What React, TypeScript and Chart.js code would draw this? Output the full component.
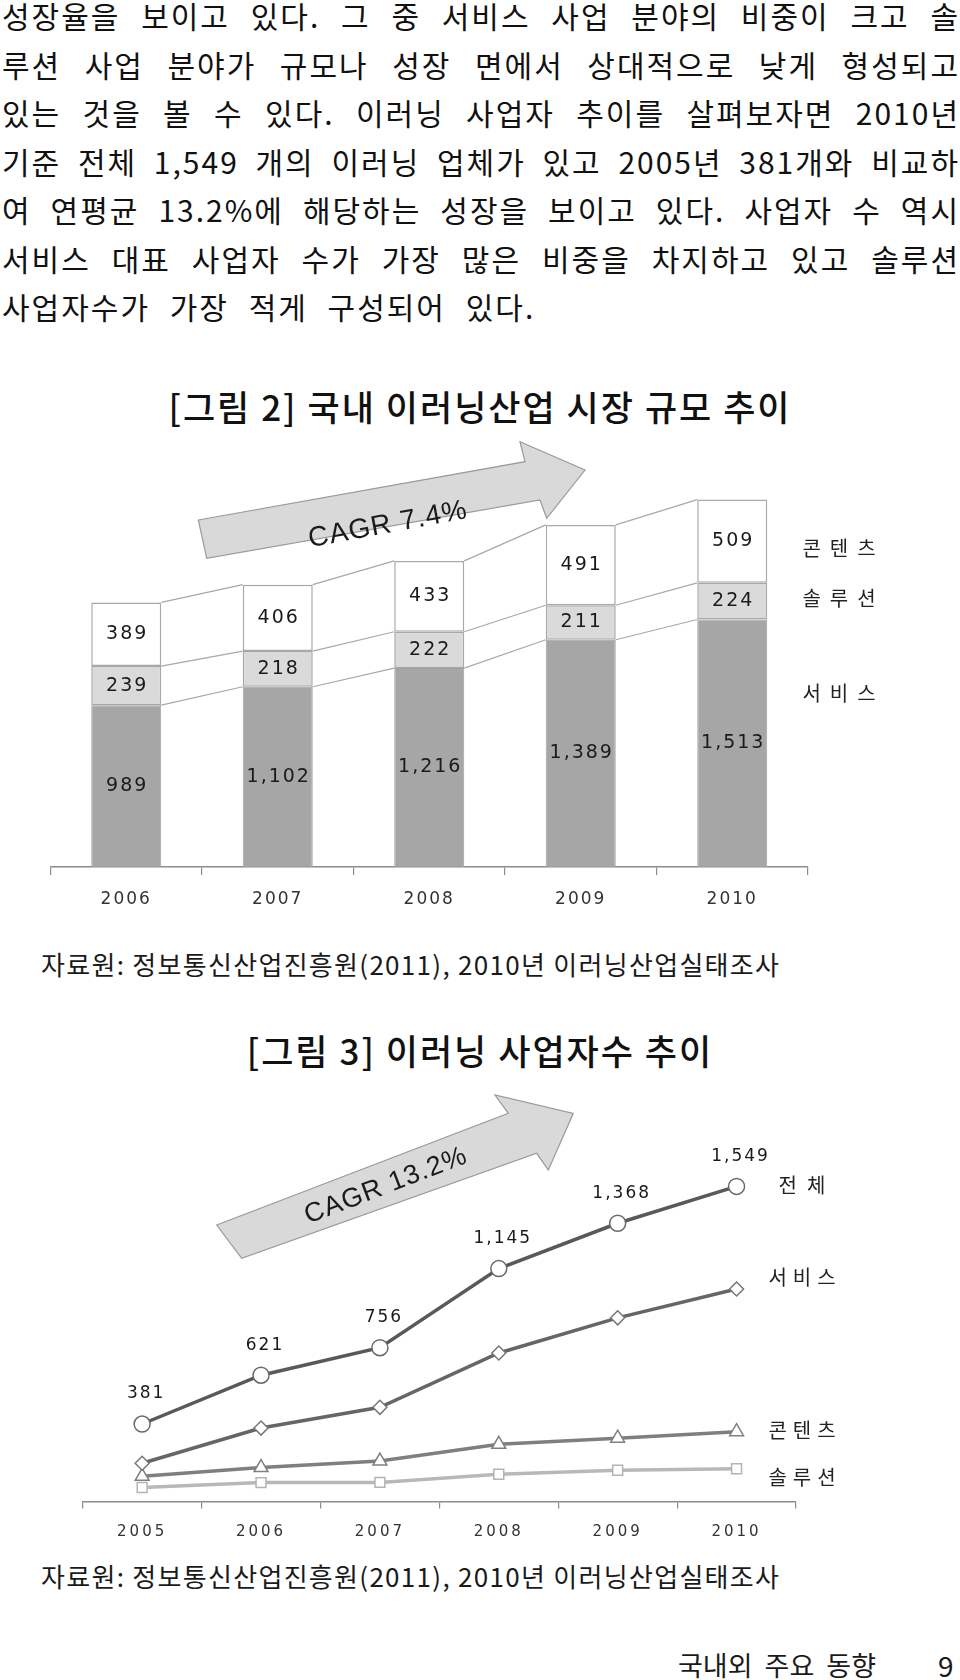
import React, { useEffect, useRef } from 'react';
import { Chart, registerables } from 'chart.js';

Chart.register(...registerables);

// ---------- text ----------
const PARAGRAPH_LINES = [
  '성장율을 보이고 있다. 그 중 서비스 사업 분야의 비중이 크고 솔',
  '루션 사업 분야가 규모나 성장 면에서 상대적으로 낮게 형성되고',
  '있는 것을 볼 수 있다. 이러닝 사업자 추이를 살펴보자면 2010년',
  '기준 전체 1,549 개의 이러닝 업체가 있고 2005년 381개와 비교하',
  '여 연평균 13.2%에 해당하는 성장을 보이고 있다. 사업자 수 역시',
  '서비스 대표 사업자 수가 가장 많은 비중을 차지하고 있고 솔루션',
  '사업자수가 가장 적게 구성되어 있다.',
];
const FIG2_TITLE = '[그림 2] 국내 이러닝산업 시장 규모 추이';
const FIG3_TITLE = '[그림 3] 이러닝 사업자수 추이';
const SOURCE_TEXT = '자료원: 정보통신산업진흥원(2011), 2010년 이러닝산업실태조사';
const FOOTER_TEXT = '국내외 주요 동향';
const PAGE_NO = '9';

// ---------- figure 2 (stacked bars) ----------
const BAR_YEARS = ['2006', '2007', '2008', '2009', '2010'];
const BAR_SERVICE = [989, 1102, 1216, 1389, 1513];
const BAR_SOLUTION = [239, 218, 222, 211, 224];
const BAR_CONTENT = [389, 406, 433, 491, 509];
const BAR_SERIES_NAMES = ['서비스', '솔루션', '콘텐츠'];
const BAR_CAGR = 'CAGR 7.4%';

// ---------- figure 3 (lines) ----------
const LINE_YEARS = ['2005', '2006', '2007', '2008', '2009', '2010'];
const LINE_TOTAL = [381, 621, 756, 1145, 1368, 1549];
const LINE_SERVICE = [188, 361, 463, 730, 903, 1045];
const LINE_CONTENT = [124, 167, 199, 281, 311, 343];
const LINE_SOLUTION = [69, 93, 94, 134, 154, 161];
const LINE_SERIES_NAMES = ['전체', '서비스', '콘텐츠', '솔루션'];
const LINE_CAGR = 'CAGR 13.2%';

const fmt = (v: number) => v.toLocaleString('en-US');

function drawArrow(ctx: CanvasRenderingContext2D, pts: number[][], text: string, cx: number, cy: number, angleDeg: number, size: number) {
  ctx.save();
  ctx.beginPath();
  ctx.moveTo(pts[0][0], pts[0][1]);
  for (let i = 1; i < pts.length; i++) ctx.lineTo(pts[i][0], pts[i][1]);
  ctx.closePath();
  ctx.fillStyle = '#d9d9d9';
  ctx.fill();
  ctx.strokeStyle = '#9a9a9a';
  ctx.lineWidth = 1.2;
  ctx.stroke();
  ctx.translate(cx, cy);
  ctx.rotate((angleDeg * Math.PI) / 180);
  ctx.fillStyle = '#1a1a1a';
  (ctx as any).letterSpacing = '1px';
  ctx.font = `${size}px "Liberation Sans", Arial, sans-serif`;
  ctx.textAlign = 'center';
  ctx.textBaseline = 'middle';
  ctx.fillText(text, 0, 0);
  ctx.restore();
}

function spacedText(ctx: CanvasRenderingContext2D, text: string, x: number, y: number, font: string, spacing: number, color: string) {
  ctx.save();
  ctx.font = font;
  (ctx as any).letterSpacing = spacing + 'px';
  ctx.fillStyle = color;
  ctx.textAlign = 'center';
  ctx.textBaseline = 'middle';
  ctx.fillText(text, x + spacing / 2, y);
  ctx.restore();
}

const tickSpacingPlugin = (px: number) => ({
  id: 'tickSpacing',
  beforeDraw(chart: any) {
    chart.ctx.letterSpacing = px + 'px';
  },
  afterDraw(chart: any) {
    chart.ctx.letterSpacing = '0px';
  },
});

const barDecor = {
  id: 'barDecor',
  beforeDatasetsDraw(chart: any) {
    const ctx = chart.ctx as CanvasRenderingContext2D;
    drawArrow(
      ctx,
      [[198.3, 100], [525, 41.7], [520, 21.7], [585, 50], [546.7, 98.3], [540, 80], [206.7, 138.3]],
      BAR_CAGR, 388, 105, -10.5, 28
    );
  },
  afterDatasetsDraw(chart: any) {
    const ctx = chart.ctx as CanvasRenderingContext2D;
    ctx.save();
    (ctx as any).letterSpacing = '0px';
    ctx.strokeStyle = '#a8a8a8';
    ctx.lineWidth = 1.2;
    chart.data.datasets.forEach((_: any, di: number) => {
      const meta = chart.getDatasetMeta(di);
      for (let i = 0; i < meta.data.length - 1; i++) {
        const a = meta.data[i];
        const b = meta.data[i + 1];
        ctx.beginPath();
        ctx.moveTo(a.x + a.width / 2, a.y);
        ctx.lineTo(b.x - b.width / 2, b.y);
        ctx.stroke();
      }
    });
    ctx.restore();
    chart.data.datasets.forEach((ds: any, di: number) => {
      const meta = chart.getDatasetMeta(di);
      meta.data.forEach((el: any, i: number) => {
        spacedText(ctx, fmt(ds.data[i]), el.x, (el.y + el.base) / 2, '19px "DejaVu Sans", Verdana, sans-serif', 2, '#1a1a1a');
      });
    });
    const ca = chart.chartArea;
    const lx = ca.right + 31;
    const font = '20px "Noto Sans CJK KR", sans-serif';
    spacedText(ctx, BAR_SERIES_NAMES[2], lx, 128, font, 9, '#222');
    spacedText(ctx, BAR_SERIES_NAMES[1], lx, 178, font, 9, '#222');
    spacedText(ctx, BAR_SERIES_NAMES[0], lx, 273, font, 9, '#222');
  },
};

const lineDecor = {
  id: 'lineDecor',
  beforeDatasetsDraw(chart: any) {
    const ctx = chart.ctx as CanvasRenderingContext2D;
    drawArrow(
      ctx,
      [[216.7, 145], [508.3, 33.3], [495, 15], [573.3, 33.3], [548.3, 90], [536.7, 73.3], [241.7, 178.3]],
      LINE_CAGR, 386, 106, -21, 27
    );
  },
  afterDatasetsDraw(chart: any) {
    const ctx = chart.ctx as CanvasRenderingContext2D;
    const meta = chart.getDatasetMeta(0);
    meta.data.forEach((el: any, i: number) => {
      spacedText(ctx, fmt(LINE_TOTAL[i]), el.x + 3, el.y - 30, '17px "DejaVu Sans", Verdana, sans-serif', 2, '#1a1a1a');
    });
    const lx = chart.chartArea.right + 6;
    const font = '20px "Noto Sans CJK KR", sans-serif';
    spacedText(ctx, LINE_SERIES_NAMES[0], lx, 105, font, 10, '#222');
    spacedText(ctx, LINE_SERIES_NAMES[1], lx, 197, font, 6, '#222');
    spacedText(ctx, LINE_SERIES_NAMES[2], lx, 350, font, 6, '#222');
    spacedText(ctx, LINE_SERIES_NAMES[3], lx, 397, font, 6, '#222');
  },
};

function BarFigure() {
  const ref = useRef<HTMLCanvasElement>(null);
  useEffect(() => {
    const chart = new Chart(ref.current as HTMLCanvasElement, {
      type: 'bar',
      data: {
        labels: BAR_YEARS,
        datasets: [
          { label: BAR_SERIES_NAMES[0], data: BAR_SERVICE, backgroundColor: '#a6a6a6', borderColor: '#a0a0a0', borderWidth: 1, borderSkipped: false },
          { label: BAR_SERIES_NAMES[1], data: BAR_SOLUTION, backgroundColor: '#dadada', borderColor: '#a8a8a8', borderWidth: 1.5, borderSkipped: false },
          { label: BAR_SERIES_NAMES[2], data: BAR_CONTENT, backgroundColor: '#ffffff', borderColor: '#a8a8a8', borderWidth: 1.5, borderSkipped: false },
        ],
      } as any,
      options: {
        responsive: false,
        animation: false,
        devicePixelRatio: 1,
        layout: { padding: { left: 50.5, right: 152, top: 38, bottom: 8 } },
        plugins: { legend: { display: false }, tooltip: { enabled: false } },
        datasets: { bar: { categoryPercentage: 1, barPercentage: 0.462 } },
        scales: {
          x: {
            stacked: true,
            offset: true,
            grid: { display: true, offset: true, drawOnChartArea: false, drawTicks: true, tickLength: 8, color: '#8c8c8c', lineWidth: 1.2 },
            border: { display: true, color: '#8c8c8c', width: 1.5 },
            ticks: { color: '#333', font: { family: '"DejaVu Sans", Verdana, sans-serif', size: 17 }, padding: 14, maxRotation: 0 },
            afterFit: (s: any) => { s.height = 45; },
          },
          y: { stacked: true, display: false, min: 0, max: 2500 },
        },
      } as any,
      plugins: [tickSpacingPlugin(2), barDecor] as any,
    });
    return () => chart.destroy();
  }, []);
  return <canvas ref={ref} width={960} height={500} style={{ position: 'absolute', left: 0, top: 420, width: 960, height: 500 }} />;
}

function LineFigure() {
  const ref = useRef<HTMLCanvasElement>(null);
  useEffect(() => {
    const common = { pointBackgroundColor: '#ffffff', pointBorderWidth: 1.5, tension: 0, borderWidth: 3.5 };
    const chart = new Chart(ref.current as HTMLCanvasElement, {
      type: 'line',
      data: {
        labels: LINE_YEARS,
        datasets: [
          { ...common, label: LINE_SERIES_NAMES[0], data: LINE_TOTAL, borderColor: '#595959', pointBorderColor: '#6a6a6a', pointStyle: 'circle', pointRadius: 8 },
          { ...common, label: LINE_SERIES_NAMES[1], data: LINE_SERVICE, borderColor: '#666666', pointBorderColor: '#777777', pointStyle: 'rectRot', pointRadius: 7 },
          { ...common, label: LINE_SERIES_NAMES[2], data: LINE_CONTENT, borderColor: '#7f7f7f', pointBorderColor: '#808080', pointStyle: 'triangle', pointRadius: 8 },
          { ...common, label: LINE_SERIES_NAMES[3], data: LINE_SOLUTION, borderColor: '#b8b8b8', pointBorderColor: '#b4b4b4', pointStyle: 'rect', pointRadius: 7 },
        ],
      } as any,
      options: {
        responsive: false,
        animation: false,
        devicePixelRatio: 1,
        layout: { padding: { left: 82.7, right: 164, top: 14.7, bottom: 8.5 } },
        plugins: { legend: { display: false }, tooltip: { enabled: false } },
        scales: {
          x: {
            offset: true,
            grid: { display: true, offset: true, drawOnChartArea: false, drawTicks: true, tickLength: 7, color: '#8c8c8c', lineWidth: 1.2 },
            border: { display: true, color: '#8c8c8c', width: 1.5 },
            ticks: { color: '#333', font: { family: '"DejaVu Sans", Verdana, sans-serif', size: 15 }, padding: 14.5, maxRotation: 0 },
            afterFit: (s: any) => { s.height = 40; },
          },
          y: { display: false, min: 0, max: 2000 },
        },
      } as any,
      plugins: [tickSpacingPlugin(3), lineDecor] as any,
    });
    return () => chart.destroy();
  }, []);
  return <canvas ref={ref} width={960} height={470} style={{ position: 'absolute', left: 0, top: 1080, width: 960, height: 470 }} />;
}

const KR = '"Noto Sans CJK KR", "Noto Sans", sans-serif';

export default function App() {
  const last = PARAGRAPH_LINES.length - 1;
  return (
    <div style={{ position: 'absolute', left: 0, top: 0, width: 960, height: 1680, background: '#fff', overflow: 'hidden', fontFamily: KR, color: '#111' }}>
      {PARAGRAPH_LINES.map((t, i) => (
        <div
          key={i}
          style={{
            position: 'absolute',
            left: 2,
            top: 17 + i * 48.5 - 26,
            width: 958,
            height: 48,
            lineHeight: '48px',
            fontSize: 30,
            letterSpacing: 2,
            wordSpacing: i === last ? 11 : 0,
            textAlign: i < last ? 'justify' : 'left',
            textAlignLast: i < last ? 'justify' : 'auto',
          } as any}
        >
          {t}
        </div>
      ))}
      <div style={{ position: 'absolute', left: 0, top: 408 - 26, width: 960, textAlign: 'center', fontSize: 35, letterSpacing: 2, lineHeight: '48px', fontWeight: 500, color: '#111' }}>{FIG2_TITLE}</div>
      <BarFigure />
      <div style={{ position: 'absolute', left: 41, top: 966 - 20, fontSize: 26, lineHeight: '36px', letterSpacing: 1.3, color: '#1a1a1a' }}>{SOURCE_TEXT}</div>
      <div style={{ position: 'absolute', left: 0, top: 1052 - 26, width: 960, textAlign: 'center', fontSize: 35, letterSpacing: 2, lineHeight: '48px', fontWeight: 500, color: '#111' }}>{FIG3_TITLE}</div>
      <LineFigure />
      <div style={{ position: 'absolute', left: 41, top: 1578 - 20, fontSize: 26, lineHeight: '36px', letterSpacing: 1.3, color: '#1a1a1a' }}>{SOURCE_TEXT}</div>
      <div style={{ position: 'absolute', left: 678, top: 1667 - 20, fontSize: 27, lineHeight: '36px', wordSpacing: 6, color: '#1a1a1a' }}>{FOOTER_TEXT}</div>
      <div style={{ position: 'absolute', left: 938, top: 1667 - 20, fontSize: 28, lineHeight: '36px', color: '#1a1a1a' }}>{PAGE_NO}</div>
    </div>
  );
}
